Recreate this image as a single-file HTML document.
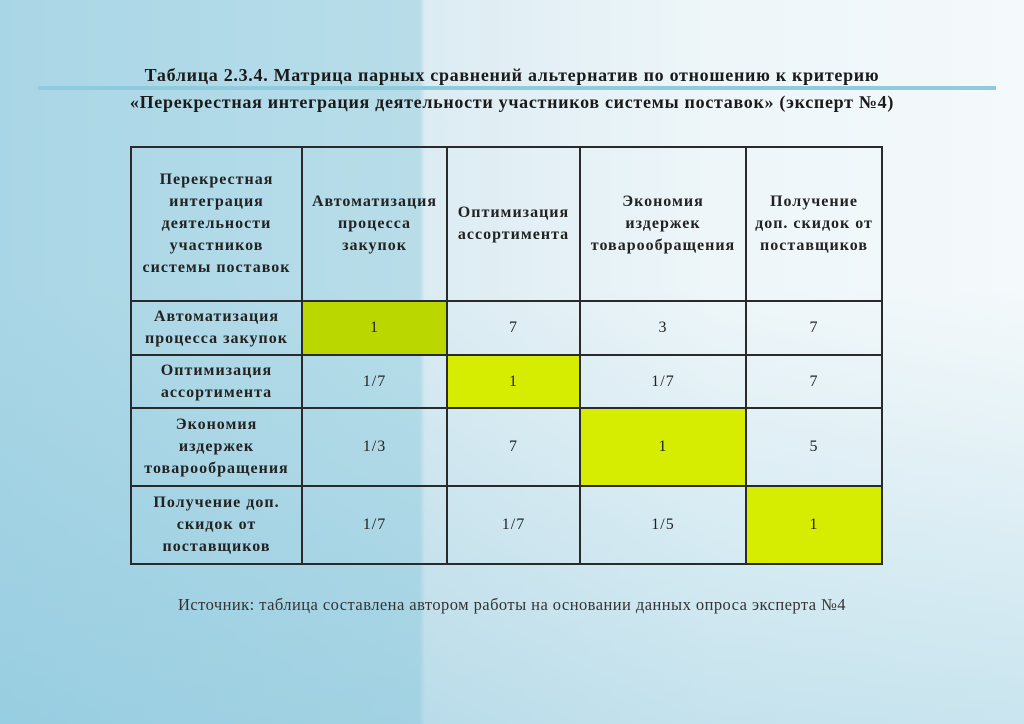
<!DOCTYPE html>
<html><head><meta charset="utf-8"><style>
body{margin:0;width:1024px;height:724px;overflow:hidden;position:relative;font-family:"Liberation Serif",serif;
background:linear-gradient(180deg,rgba(255,255,255,0) 40%,rgba(120,190,215,0.35) 100%),linear-gradient(90deg,#a9d6e6 0%,#b8dde9 41%,#dcecf3 41.5%,#eef6f9 70%,#f4f9fb 100%);}
.line{position:absolute;left:38px;top:86px;width:958px;height:4px;background:#8ecbdc;}
.t{position:absolute;left:0;width:1024px;text-align:center;font-weight:bold;font-size:18px;letter-spacing:0.7px;color:#1a1a1a;}
table{position:absolute;left:130px;top:146px;border-collapse:collapse;}
td{border:2px solid #2a2a2a;text-align:center;vertical-align:middle;font-size:16px;letter-spacing:1px;color:#222;line-height:22px;padding:0;}
th{border:2px solid #2a2a2a;font-size:16px;letter-spacing:1px;color:#222;line-height:22px;padding:0;}
.g1{background:#bad800}.g{background:#d6ec00}
.src{position:absolute;left:0;width:1024px;top:595px;text-align:center;font-size:16.5px;letter-spacing:0.45px;color:#333;}
</style></head><body>
<div class="line"></div>
<div class="t" style="top:65px">Таблица 2.3.4. Матрица парных сравнений альтернатив по отношению к критерию</div>
<div class="t" style="top:92px">«Перекрестная интеграция деятельности участников системы поставок» (эксперт №4)</div>
<table>
<tr style="height:154px"><th style="width:169px">Перекрестная<br>интеграция<br>деятельности<br>участников<br>системы поставок</th><th style="width:143px">Автоматизация<br>процесса<br>закупок</th><th style="width:131px">Оптимизация<br>ассортимента</th><th style="width:164px">Экономия<br>издержек<br>товарообращения</th><th style="width:134px">Получение<br>доп. скидок от<br>поставщиков</th></tr>
<tr style="height:54px"><th>Автоматизация<br>процесса закупок</th><td class="g1">1</td><td>7</td><td>3</td><td>7</td></tr>
<tr style="height:53px"><th>Оптимизация<br>ассортимента</th><td>1/7</td><td class="g">1</td><td>1/7</td><td>7</td></tr>
<tr style="height:78px"><th>Экономия<br>издержек<br>товарообращения</th><td>1/3</td><td>7</td><td class="g">1</td><td>5</td></tr>
<tr style="height:78px"><th>Получение доп.<br>скидок от<br>поставщиков</th><td>1/7</td><td>1/7</td><td>1/5</td><td class="g">1</td></tr>
</table>
<div class="src">Источник: таблица составлена автором работы на основании данных опроса эксперта №4</div>
</body></html>
